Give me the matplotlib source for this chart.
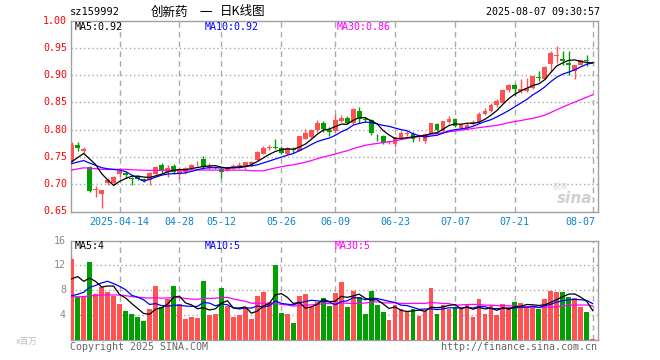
import numpy as np
import pandas as pd
import matplotlib
matplotlib.use("Agg")
import matplotlib.pyplot as plt

plt.rcParams['font.family'] = ['DejaVu Sans Mono', 'Noto Sans CJK SC']

# ---------------- data ----------------
holidays = ['2025-04-04', '2025-05-01', '2025-05-02', '2025-05-05', '2025-06-02']
dates = [d.strftime('%Y-%m-%d') for d in pd.bdate_range('2025-04-01', '2025-08-07')
         if d.strftime('%Y-%m-%d') not in holidays]

opens = [0.743, 0.771, 0.760, 0.732, 0.690, 0.682, 0.702, 0.702, 0.718, 0.721,
         0.712, 0.715, 0.710, 0.707, 0.718, 0.736, 0.722, 0.734, 0.719, 0.723,
         0.729, 0.738, 0.746, 0.730, 0.729, 0.728, 0.726, 0.731, 0.734, 0.731,
         0.737, 0.745, 0.756, 0.766, 0.768, 0.767, 0.755, 0.765, 0.761, 0.783,
         0.786, 0.799, 0.813, 0.799, 0.797, 0.815, 0.822, 0.812, 0.835, 0.820,
         0.817, 0.787, 0.788, 0.777, 0.774, 0.784, 0.792, 0.792, 0.784, 0.779,
         0.794, 0.811, 0.797, 0.814, 0.820, 0.803, 0.803, 0.810, 0.814, 0.829,
         0.835, 0.845, 0.849, 0.872, 0.881, 0.870, 0.871, 0.876, 0.896, 0.893,
         0.921, 0.935, 0.930, 0.922, 0.908, 0.919, 0.927, 0.922]
highs = [0.778, 0.777, 0.769, 0.734, 0.697, 0.690, 0.711, 0.715, 0.728, 0.725,
         0.714, 0.717, 0.712, 0.722, 0.734, 0.739, 0.736, 0.737, 0.731, 0.731,
         0.737, 0.743, 0.751, 0.738, 0.734, 0.729, 0.731, 0.737, 0.740, 0.741,
         0.743, 0.760, 0.770, 0.771, 0.782, 0.770, 0.768, 0.768, 0.789, 0.801,
         0.801, 0.817, 0.816, 0.804, 0.828, 0.826, 0.825, 0.840, 0.842, 0.824,
         0.820, 0.792, 0.790, 0.780, 0.787, 0.797, 0.797, 0.795, 0.788, 0.793,
         0.812, 0.813, 0.816, 0.825, 0.822, 0.813, 0.812, 0.818, 0.833, 0.839,
         0.848, 0.856, 0.875, 0.884, 0.883, 0.892, 0.894, 0.899, 0.907, 0.916,
         0.944, 0.953, 0.945, 0.945, 0.919, 0.928, 0.937, 0.9225]
lows = [0.741, 0.761, 0.757, 0.685, 0.676, 0.656, 0.699, 0.699, 0.714, 0.712,
        0.699, 0.707, 0.704, 0.699, 0.715, 0.720, 0.713, 0.719, 0.709, 0.719,
        0.727, 0.734, 0.728, 0.727, 0.727, 0.712, 0.724, 0.728, 0.729, 0.728,
        0.734, 0.744, 0.755, 0.762, 0.764, 0.755, 0.753, 0.758, 0.760, 0.782,
        0.785, 0.796, 0.795, 0.789, 0.796, 0.814, 0.811, 0.810, 0.812, 0.814,
        0.791, 0.780, 0.773, 0.774, 0.769, 0.783, 0.788, 0.777, 0.779, 0.775,
        0.793, 0.797, 0.796, 0.812, 0.804, 0.801, 0.801, 0.809, 0.812, 0.827,
        0.832, 0.842, 0.847, 0.869, 0.861, 0.868, 0.869, 0.875, 0.889, 0.892,
        0.906, 0.922, 0.919, 0.901, 0.892, 0.918, 0.916, 0.9215]
closes = [0.772, 0.766, 0.764, 0.687, 0.691, 0.689, 0.708, 0.714, 0.724, 0.717,
          0.710, 0.709, 0.706, 0.720, 0.731, 0.726, 0.729, 0.722, 0.727, 0.729,
          0.736, 0.739, 0.731, 0.733, 0.731, 0.722, 0.730, 0.734, 0.735, 0.740,
          0.740, 0.759, 0.767, 0.767, 0.767, 0.757, 0.766, 0.763, 0.788, 0.793,
          0.800, 0.813, 0.802, 0.796, 0.817, 0.822, 0.813, 0.838, 0.819, 0.818,
          0.793, 0.786, 0.776, 0.778, 0.786, 0.793, 0.793, 0.783, 0.785, 0.792,
          0.812, 0.799, 0.815, 0.820, 0.807, 0.808, 0.809, 0.814, 0.829, 0.835,
          0.845, 0.852, 0.872, 0.881, 0.875, 0.875, 0.876, 0.898, 0.895, 0.914,
          0.941, 0.936, 0.926, 0.918, 0.918, 0.927, 0.926, 0.9222]
volumes = [13.0, 6.9, 7.1, 12.6, 7.3, 8.5, 7.7, 7.1, 5.7, 4.6,
           4.05, 3.7, 3.0, 5.0, 8.65, 5.3, 6.6, 8.65, 5.8, 3.25,
           3.7, 3.45, 9.5, 3.95, 4.2, 8.3, 5.4, 3.6, 3.95, 5.1,
           3.25, 7.0, 7.7, 6.05, 12.05, 4.3, 4.05, 2.6, 7.1, 7.3,
           5.3, 6.05, 6.65, 5.4, 7.45, 9.3, 5.25, 7.8, 6.85, 4.2,
           7.8, 5.5, 4.4, 3.15, 5.5, 5.0, 4.6, 4.85, 3.8, 4.6,
           8.3, 4.15, 5.5, 5.0, 5.3, 4.85, 5.7, 3.6, 6.5, 4.05,
           5.5, 3.95, 5.7, 5.3, 6.05, 5.85, 5.4, 5.4, 4.85, 6.5,
           7.85, 7.7, 7.7, 6.9, 6.65, 5.25, 4.4, 0.15]

# sessions before the window (only used to seed the moving averages), estimated from the MA lines
pre_close = [0.700, 0.705, 0.712, 0.718, 0.722, 0.715, 0.710, 0.716, 0.722, 0.728,
             0.725, 0.720, 0.726, 0.731, 0.728, 0.722, 0.718, 0.724, 0.729, 0.729,
             0.736, 0.738, 0.733, 0.731, 0.733, 0.728, 0.726, 0.738, 0.742]
pre_vol = [6.5, 7.2, 8.0, 6.1, 5.8, 7.5, 6.9, 6.2, 7.8, 8.4,
           6.6, 5.9, 6.3, 7.1, 7.4, 6.0, 5.6, 6.8, 7.3, 6.9,
           4.5, 3.9, 4.6, 4.2, 4.5, 5.0, 11.0, 10.0, 10.0]

tick_dates = ['2025-04-14', '2025-04-28', '2025-05-12', '2025-05-26', '2025-06-09',
              '2025-06-23', '2025-07-07', '2025-07-21', '2025-08-07']
price_ticks = [0.65, 0.70, 0.75, 0.80, 0.85, 0.90, 0.95, 1.00]
vol_ticks = [4, 8, 12, 16]
code = 'sz159992'
title_parts = ['创新药', '一', '日K线图']
stamp = '2025-08-07 09:30:57'

# ---------------- computations ----------------
n = len(closes)
x = np.arange(n)
o = np.array(opens); h = np.array(highs); l = np.array(lows); c = np.array(closes)
v = np.array(volumes)
npre = len(pre_close)
allc = pd.Series(pre_close + closes)
allv = pd.Series(pre_vol + volumes)
ma = {k: allc.rolling(k).mean().values[npre:] for k in (5, 10, 30)}
vma = {k: allv.rolling(k).mean().values[npre:] for k in (5, 10, 30)}

RED = '#FF5252'
GRN = '#00A000'
GRID = '#AAAAAA'
BORDER = '#A0A0A0'
DATEC = '#0A84D0'
up = c >= o
cols = np.where(up, RED, GRN)

W, H = 660, 360
fig = plt.figure(figsize=(W / 100, H / 100), dpi=100)
fig.patch.set_facecolor('white')

def fx(px):
    return px / W

def fy(py):
    return 1 - py / H

L, R = 70.5, 597.5
PT, PB = 20.5, 211.5
VT, VB = 240.5, 339.5
axp = fig.add_axes([fx(L), fy(PB), fx(R - L), (PB - PT) / H])
axv = fig.add_axes([fx(L), fy(VB), fx(R - L), (VB - VT) / H])

xlim = (-0.2, n - 1 + 0.8)
tick_idx = [dates.index(d) for d in tick_dates]

for ax in (axp, axv):
    ax.set_xlim(*xlim)
    for s in ax.spines.values():
        s.set_color(BORDER)
        s.set_linewidth(1.0)
        s.set_zorder(1)
    ax.tick_params(length=0, labelbottom=False, labelleft=False)
    ax.set_xticks([])
    ax.set_yticks([])
    for ti in tick_idx:
        ax.axvline(ti, color=GRID, lw=1.0, ls=(0, (4, 3)), zorder=0)

# ---- price panel ----
axp.set_ylim(0.65, 1.00)
for p in price_ticks[1:-1]:
    axp.axhline(p, color=GRID, lw=1.0, ls=(0, (1, 2)), zorder=0)
axp.vlines(x, l, h, colors=cols, lw=1.0, zorder=2)
body_b = np.minimum(o, c)
body_h = np.maximum(np.abs(c - o), 0.0013)
axp.bar(x, body_h, bottom=body_b, width=0.8, color=cols, edgecolor='none', zorder=3)
axp.plot(x, ma[30], color='#FF00FF', lw=0.9, zorder=4)
axp.plot(x, ma[10], color='#0000FF', lw=0.9, zorder=4)
axp.plot(x, ma[5], color='#000000', lw=0.9, zorder=4)

for p in price_ticks:
    fig.text(fx(67), fy(PB - (p - 0.65) / 0.35 * (PB - PT)), f'{p:.2f}',
             color='#FF0000', fontsize=7.2, ha='right', va='center')

fig.text(fx(75), fy(27), f'MA5:{ma[5][-1]:.2f}', color='black', fontsize=7.2, va='center')
fig.text(fx(205), fy(27), f'MA10:{ma[10][-1]:.2f}', color='#0000FF', fontsize=7.2, va='center')
fig.text(fx(337), fy(27), f'MA30:{ma[30][-1]:.2f}', color='#FF00FF', fontsize=7.2, va='center')

# watermark
fig.text(fx(592), fy(198), 'sina', color='#D0D0D0', fontsize=11, fontstyle='italic',
         fontweight='bold', ha='right', va='center', family=['DejaVu Sans'])
fig.text(fx(560), fy(187), '新浪', color='#D8D8D8', fontsize=5.5, ha='center', va='center',
         family=['Noto Sans CJK SC'])

# date labels
for k, (ti, d) in enumerate(zip(tick_idx, tick_dates)):
    px = L + (ti - xlim[0]) / (xlim[1] - xlim[0]) * (R - L)
    lab = d if k == 0 else d[5:]
    ha = 'center'
    if k == len(tick_idx) - 1:
        ha = 'right'
        px = 595.5
    fig.text(fx(px), fy(222), lab, color=DATEC, fontsize=7.2, ha=ha, va='center')

# ---- volume panel ----
axv.set_ylim(0, 16)
for t in vol_ticks[:-1]:
    axv.axhline(t, color=GRID, lw=1.0, ls=(0, (1, 2)), zorder=0)
axv.bar(x, v, width=0.8, color=cols, edgecolor='none', zorder=2)
axv.plot(x, vma[30], color='#FF00FF', lw=0.9, zorder=4)
axv.plot(x, vma[10], color='#0000FF', lw=0.9, zorder=4)
axv.plot(x, vma[5], color='#000000', lw=0.9, zorder=4)

for t in vol_ticks:
    fig.text(fx(66), fy(VB - t / 16 * (VB - VT)), f'{t}', color='#888888', fontsize=7.2,
             ha='right', va='center')
fig.text(fx(37), fy(341), 'x百万', color='#BBBBBB', fontsize=6, ha='right', va='center',
         family=['DejaVu Sans Mono', 'Noto Sans CJK SC'])

fig.text(fx(75), fy(246), f'MA5:{int(vma[5][-1])}', color='black', fontsize=7.2, va='center')
fig.text(fx(205), fy(246), f'MA10:{int(vma[10][-1])}', color='#0000FF', fontsize=7.2, va='center')
fig.text(fx(335), fy(246), f'MA30:{int(vma[30][-1])}', color='#FF00FF', fontsize=7.2, va='center')

# ---- header / footer ----
fig.text(fx(70), fy(12), code, color='black', fontsize=7.5, va='center')
cjk = ['Noto Sans CJK SC', 'DejaVu Sans']
fig.text(fx(151), fy(12), title_parts[0], color='black', fontsize=9, va='center', family=cjk)
fig.text(fx(205.5), fy(12), title_parts[1], color='black', fontsize=9, va='center',
         ha='center', family=cjk)
fig.text(fx(220), fy(12), title_parts[2], color='black', fontsize=9, va='center', family=cjk)
fig.text(fx(600), fy(12), stamp, color='black', fontsize=7.2, ha='right', va='center')
fig.text(fx(70), fy(347), 'Copyright 2025 SINA.COM', color='#666666', fontsize=7.2, va='center')
fig.text(fx(597), fy(347), 'http://finance.sina.com.cn', color='#666666', fontsize=7.2,
         ha='right', va='center')

fig.savefig('out.png', dpi=100, facecolor='white')
